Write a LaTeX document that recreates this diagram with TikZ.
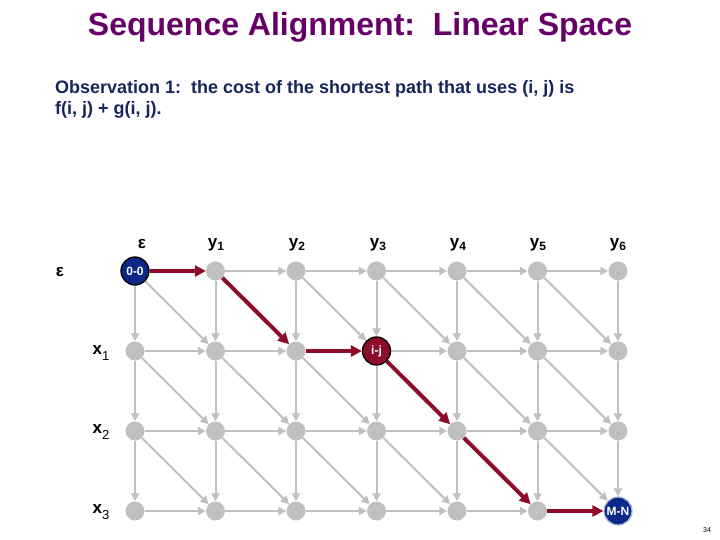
\documentclass[tikz,border=0pt]{standalone}
\usepackage{fontspec}
\setmainfont{Liberation Sans}
\usetikzlibrary{arrows.meta,backgrounds}
\definecolor{titlepurple}{RGB}{102,0,102}
\definecolor{obsblue}{RGB}{22,38,92}
\definecolor{edgegray}{RGB}{192,192,192}
\definecolor{pathred}{RGB}{140,12,42}
\definecolor{navyfill}{RGB}{12,40,135}
\begin{document}
\begin{tikzpicture}[x=1pt,y=-1pt,
  gnode/.style={circle, fill=edgegray, minimum size=19pt, inner sep=0pt},
  specnode/.style={circle, minimum size=28pt, inner sep=0pt, line width=1.3pt,
     text=white, font=\fontsize{12}{12}\selectfont\bfseries},
  startnode/.style={specnode, fill=navyfill, draw=black},
  ijnode/.style={specnode, fill=pathred, draw=black},
  endnode/.style={specnode, fill=navyfill, draw={rgb,255:red,170;green,180;blue,205}},
  gedge/.style={draw=edgegray, line width=2pt, -{Triangle[length=8pt,width=8pt]}},
  redge/.style={draw=pathred, line width=4pt, -{Triangle[length=11pt,width=11pt]}},
  lab/.style={font=\fontsize{17}{17}\selectfont\bfseries, inner sep=0pt},
  obs/.style={font=\fontsize{18}{18}\selectfont\bfseries, text=obsblue, anchor=base west, inner sep=0pt}
]
\useasboundingbox (0,0) rectangle (720,540);

\node[font=\fontsize{32}{32}\selectfont\bfseries, text=titlepurple, inner sep=0pt] (title) at (360,27) {Sequence Alignment:\ \ Linear Space};
\node[obs] (obs1) at (55,94) {Observation 1:\ \ the cost of the shortest path that uses (i, j) is};
\node[obs] (obs2) at (55,115) {f(i, j) + g(i, j).};

% grid nodes
\foreach \i in {0,...,3} {
  \foreach \j in {0,...,6} {
    \pgfmathtruncatemacro\sp{((\i==0)&&(\j==0)) || ((\i==1)&&(\j==3)) || ((\i==3)&&(\j==6))}
    \ifnum\sp=0
      \node[gnode] (n\i\j) at ({135+80.5*\j},{271+80*\i}) {};
    \fi
  }
}
\node[startnode] (n00) at (135,271) {0-0};
\node[ijnode] (n13) at (376.5,351) {i-j};
\node[endnode] (n36) at (618,511) {M-N};

\begin{scope}[on background layer]
\foreach \i in {0,...,3} {
  \foreach \j in {0,...,6} {
    \pgfmathtruncatemacro\ni{\i+1}
    \pgfmathtruncatemacro\nj{\j+1}
    \ifnum\j<6 \draw[gedge] (n\i\j) -- (n\i\nj); \fi
    \ifnum\i<3 \draw[gedge] (n\i\j) -- (n\ni\j); \fi
    \ifnum\i<3 \ifnum\j<6 \draw[gedge] (n\i\j) -- (n\ni\nj); \fi\fi
  }
}
\draw[redge] (n00) -- (n01);
\draw[redge] (n01) -- (n12);
\draw[redge] (n12) -- (n13);
\draw[redge] (n13) -- (n24);
\draw[redge] (n24) -- (n35);
\draw[redge] (n35) -- (n36);
\end{scope}

% labels
\node[lab] (eps1) at (142,244) {ε};
\node[lab] (eps2) at (60,272) {ε};
\foreach \j/\xx in {1/216,2/297,3/378,4/458,5/538,6/618} {
  \node[lab] (y\j) at (\xx,245) {y\raisebox{-0.35ex}{\fontsize{12}{12}\selectfont\j}};
}
\foreach \i/\yy in {1/353,2/432,3/512} {
  \node[lab] (x\i) at (101,\yy) {x\raisebox{-0.6ex}{\fontsize{13}{13}\selectfont\mdseries\i}};
}
\node[font=\fontsize{7}{7}\selectfont, inner sep=0pt] (page) at (707,530) {34};
\end{tikzpicture}
\end{document}
